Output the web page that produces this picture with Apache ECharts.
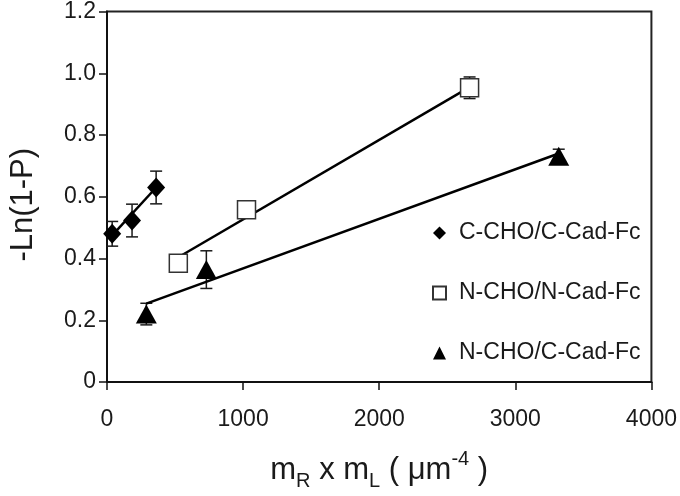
<!DOCTYPE html>
<html>
<head>
<meta charset="utf-8">
<script src="https://cdn.jsdelivr.net/npm/echarts@6/dist/echarts.min.js"></script>
<style>
  html, body { margin: 0; padding: 0; background: #fff; }
  #chart { width: 680px; height: 496px; }
</style>
</head>
<body>
<div id="chart"></div>
<script>
// C-CHO/C-Cad-Fc (diamonds)
const ccX = [38, 184, 361];
const ccY = [0.48, 0.523, 0.63];
const ccErr = [0.04, 0.053, 0.053];
// N-CHO/N-Cad-Fc (open squares)
const nnX = [524, 1025, 2664];
const nnY = [0.385, 0.558, 0.953];
const nnErr = [0.02, 0.02, 0.035];
// N-CHO/C-Cad-Fc (triangles)
const ncX = [289, 730, 3319];
const ncY = [0.22, 0.364, 0.731];
const ncErr = [0.035, 0.061, 0.023];

// trend line end points
const ccFit = [[38, 0.475], [361, 0.63]];
const nnFit = [[524, 0.404], [2664, 0.955]];
const ncFit = [[289, 0.254], [3319, 0.74]];

const names = ['C-CHO/C-Cad-Fc', 'N-CHO/N-Cad-Fc', 'N-CHO/C-Cad-Fc'];
const font = 'Liberation Sans, Arial, sans-serif';
const ink = '#1a1a1a';

const pairs = (xs, ys) => xs.map((x, i) => [x, ys[i]]);
const errRows = (xs, ys, es) => xs.map((x, i) => [x, ys[i] - es[i], ys[i] + es[i]]);

function errorBars(rows) {
    return {
        type: 'custom',
        z: 1,
        silent: true,
        renderItem: function (params, api) {
            const lo = api.coord([api.value(0), api.value(1)]);
            const hi = api.coord([api.value(0), api.value(2)]);
            const w = 6;
            const st = { stroke: ink, lineWidth: 1.5 };
            return {
                type: 'group',
                children: [
                    { type: 'line', shape: { x1: lo[0], y1: lo[1], x2: hi[0], y2: hi[1] }, style: st },
                    { type: 'line', shape: { x1: lo[0] - w, y1: lo[1], x2: lo[0] + w, y2: lo[1] }, style: st },
                    { type: 'line', shape: { x1: hi[0] - w, y1: hi[1], x2: hi[0] + w, y2: hi[1] }, style: st }
                ]
            };
        },
        encode: { x: 0, y: [1, 2] },
        data: rows
    };
}

function fitLine(pts) {
    return {
        type: 'line',
        z: 2,
        silent: true,
        symbol: 'none',
        lineStyle: { color: '#000', width: 2.5 },
        data: pts
    };
}

const chart = echarts.init(document.getElementById('chart'));

const option = {
    backgroundColor: '#fff',
    animation: false,
    grid: {
        left: 103, right: 27, top: 10, bottom: 114,
        show: true, borderColor: '#222', borderWidth: 2
    },
    legend: {
        orient: 'vertical',
        left: 432,
        top: 221,
        padding: 0,
        itemGap: 36,
        itemWidth: 13,
        itemHeight: 13,
        data: [
            { name: names[0], icon: 'diamond' },
            { name: names[1], icon: 'rect' },
            { name: names[2], icon: 'triangle' }
        ],
        textStyle: { fontFamily: font, fontSize: 23, color: ink, lineHeight: 24, padding: [0, 0, 0, 8] }
    },
    xAxis: {
        type: 'value',
        min: 0, max: 4000, interval: 1000,
        splitLine: { show: false },
        axisLine: { onZero: false, lineStyle: { color: '#111', width: 2 } },
        axisTick: { length: 8, lineStyle: { color: '#111', width: 1.5 } },
        axisLabel: { fontFamily: font, fontSize: 23, color: ink, margin: 26, formatter: v => String(v) },
        name: '{t|m}{s|R}{t| x m}{s|L}{t| ( μm}{p|-4}{t| )}',
        nameLocation: 'middle',
        nameGap: 67,
        nameTextStyle: {
            fontFamily: font, fontSize: 31, color: ink,
            rich: {
                t: { fontFamily: font, fontSize: 31, color: ink, lineHeight: 42 },
                s: { fontFamily: font, fontSize: 20, color: ink, lineHeight: 20, verticalAlign: 'bottom' },
                p: { fontFamily: font, fontSize: 20, color: ink, lineHeight: 24, verticalAlign: 'top' }
            }
        }
    },
    yAxis: {
        type: 'value',
        min: 0, max: 1.2, interval: 0.2,
        splitLine: { show: false },
        axisLine: { onZero: false, lineStyle: { color: '#111', width: 2 } },
        axisTick: { length: 8, lineStyle: { color: '#111', width: 1.5 } },
        axisLabel: {
            fontFamily: font, fontSize: 23, color: ink, margin: 11,
            formatter: v => (v === 0 ? '0' : v.toFixed(1))
        },
        name: '-Ln(1-P)',
        nameLocation: 'middle',
        nameGap: 68,
        nameTextStyle: { fontFamily: font, fontSize: 31, color: ink, padding: [0, 16, 0, 0] }
    },
    series: [
        errorBars(errRows(ccX, ccY, ccErr)),
        errorBars(errRows(nnX, nnY, nnErr)),
        errorBars(errRows(ncX, ncY, ncErr)),
        fitLine(ccFit),
        fitLine(nnFit),
        fitLine(ncFit),
        {
            name: names[0],
            type: 'scatter',
            z: 3,
            symbol: 'diamond',
            symbolSize: [18, 20],
            itemStyle: { color: '#000', opacity: 1 },
            data: pairs(ccX, ccY)
        },
        {
            name: names[1],
            type: 'scatter',
            z: 3,
            symbol: 'rect',
            symbolSize: 18,
            itemStyle: { color: '#fff', borderColor: '#333', borderWidth: 1.5, opacity: 1 },
            data: pairs(nnX, nnY)
        },
        {
            name: names[2],
            type: 'scatter',
            z: 3,
            symbol: 'triangle',
            symbolSize: [21, 19],
            itemStyle: { color: '#000', opacity: 1 },
            data: pairs(ncX, ncY)
        }
    ]
};

chart.setOption(option);
</script>
</body>
</html>
